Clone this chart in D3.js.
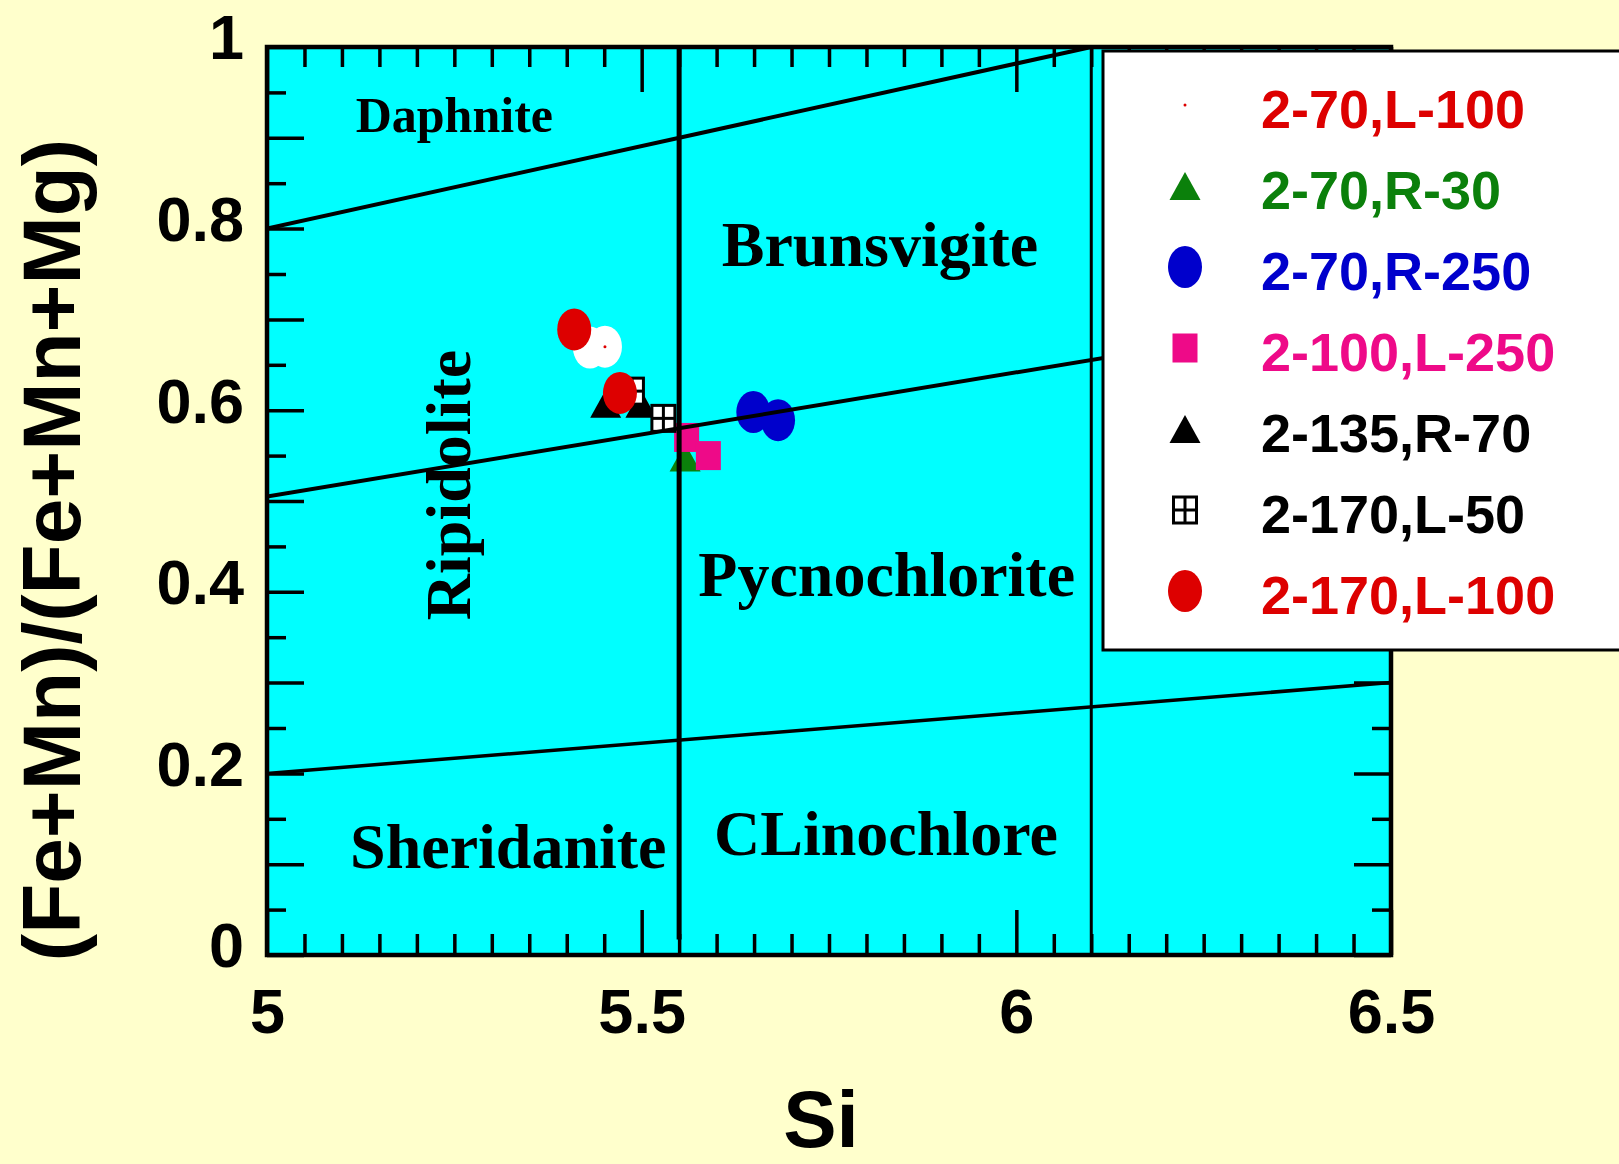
<!DOCTYPE html>
<html><head><meta charset="utf-8">
<script src="https://cdn.jsdelivr.net/npm/d3@7"></script>
<style>html,body{margin:0;padding:0;background:#FFFFCC;overflow:hidden}svg{display:block}</style>
</head><body>
<script>
// ---------- data ----------
const seriesNames  = ["2-70,L-100","2-70,R-30","2-70,R-250","2-100,L-250","2-135,R-70","2-170,L-50","2-170,L-100"];
const seriesColors = ["#DD0000","#0B800B","#0000CC","#EE0A88","#000000","#000000","#DD0000"];
const seriesShapes = ["dot","triangle","circle","square","triangle","crossSquare","circle"];

const si_2_70_L100  = [5.431, 5.451];  const fe_2_70_L100  = [0.669, 0.670];
const si_2_70_R30   = [5.558];         const fe_2_70_R30   = [0.548];
const si_2_70_R250  = [5.649, 5.682];  const fe_2_70_R250  = [0.598, 0.589];
const si_2_100_L250 = [5.560, 5.589];  const fe_2_100_L250 = [0.570, 0.550];
const si_2_135_R70  = [5.452, 5.499];  const fe_2_135_R70  = [0.607, 0.607];
const si_2_170_L50  = [5.487, 5.529];  const fe_2_170_L50  = [0.621, 0.591];
const si_2_170_L100 = [5.410, 5.471];  const fe_2_170_L100 = [0.689, 0.619];

const seriesSi = [si_2_70_L100, si_2_70_R30, si_2_70_R250, si_2_100_L250, si_2_135_R70, si_2_170_L50, si_2_170_L100];
const seriesFe = [fe_2_70_L100, fe_2_70_R30, fe_2_70_R250, fe_2_100_L250, fe_2_135_R70, fe_2_170_L50, fe_2_170_L100];

// field boundaries (Si, ratio)
const boundaryX1 = [5.0, 5.0, 5.0, 5.55, 6.1];
const boundaryY1 = [0.8, 0.505, 0.2, 0.017, 0.0];
const boundaryX2 = [6.1, 6.5, 6.5, 5.55, 6.1];
const boundaryY2 = [1.0, 0.71, 0.3, 1.0, 1.0];

// field names (Si, ratio of baseline)
const fieldNames = ["Daphnite","Brunsvigite","Ripidolite","Pycnochlorite","Sheridanite","CLinochlore"];
const fieldSi    = [5.25, 5.818, 5.2713, 5.827, 5.322, 5.826];
const fieldFe    = [0.9067, 0.7588, 0.5176, 0.3954, 0.0958, 0.110];

const xLabelTicks = [5, 5.5, 6, 6.5];
const xTickLabels = ["5","5.5","6","6.5"];
const yLabelTicks = [0, 0.2, 0.4, 0.6, 0.8, 1];
const yTickLabels = ["0","0.2","0.4","0.6","0.8","1"];
const xTitle = "Si";
const yTitle = "(Fe+Mn)/(Fe+Mn+Mg)";

// ---------- layout ----------
const W = 1619, H = 1164;
const L = 267, R = 1391, T = 47, B = 955;
const x = d3.scaleLinear().domain([5, 6.5]).range([L, R]);
const y = d3.scaleLinear().domain([0, 1]).range([B, T]);

const svg = d3.select("body").append("svg").attr("width", W).attr("height", H);
svg.append("rect").attr("width", W).attr("height", H).attr("fill", "#FFFFCC");
svg.append("rect").attr("x", L).attr("y", T).attr("width", R - L).attr("height", B - T).attr("fill", "#00FFFF");

svg.append("clipPath").attr("id", "pc").append("rect")
  .attr("x", L).attr("y", T).attr("width", R - L).attr("height", B - T);

// field labels
const serif = "'Liberation Serif','Times New Roman',serif";
const fsz = [50, 64, 64, 64, 64, 64];
svg.append("g").selectAll("text").data(fieldNames).join("text")
  .attr("transform", (d, i) => d === "Ripidolite"
      ? `translate(${x(fieldSi[i])},${y(fieldFe[i])}) rotate(-90)`
      : `translate(${x(fieldSi[i])},${y(fieldFe[i])})`)
  .attr("text-anchor", "middle")
  .attr("font-family", serif).attr("font-weight", "bold")
  .attr("font-size", (d, i) => fsz[i]).attr("fill", "#000").text(d => d);

// marker drawing
function drawMarker(g, shape, color, cx, cy) {
  if (shape === "dot") {
    g.append("ellipse").attr("cx", cx).attr("cy", cy).attr("rx", 17).attr("ry", 21).attr("fill", "#FFFFFF");
    g.append("circle").attr("cx", cx).attr("cy", cy).attr("r", 1.5).attr("fill", color);
  } else if (shape === "circle") {
    g.append("ellipse").attr("cx", cx).attr("cy", cy).attr("rx", 17).attr("ry", 21).attr("fill", color);
  } else if (shape === "triangle") {
    const w = 31, h = 28;
    g.append("path").attr("d", `M${cx},${cy - h / 2}L${cx + w / 2},${cy + h / 2}L${cx - w / 2},${cy + h / 2}Z`).attr("fill", color);
  } else if (shape === "square") {
    g.append("rect").attr("x", cx - 12.5).attr("y", cy - 14.5).attr("width", 25).attr("height", 29).attr("fill", color);
  } else if (shape === "crossSquare") {
    const w = 23, h = 26;
    g.append("rect").attr("x", cx - w / 2).attr("y", cy - h / 2).attr("width", w).attr("height", h)
      .attr("fill", "#fff").attr("stroke", color).attr("stroke-width", 3);
    g.append("line").attr("x1", cx).attr("x2", cx).attr("y1", cy - h / 2).attr("y2", cy + h / 2).attr("stroke", color).attr("stroke-width", 3);
    g.append("line").attr("x1", cx - w / 2).attr("x2", cx + w / 2).attr("y1", cy).attr("y2", cy).attr("stroke", color).attr("stroke-width", 3);
  }
}

const pts = svg.append("g");
seriesNames.forEach((name, s) => {
  const g = pts.append("g");
  seriesSi[s].forEach((v, i) => drawMarker(g, seriesShapes[s], seriesColors[s], x(v), y(seriesFe[s][i])));
});

// boundaries (drawn over the points)
const bw = [4, 4, 3.5, 5, 3];
svg.append("g").attr("clip-path", "url(#pc)").selectAll("line").data(boundaryX1).join("line")
  .attr("x1", (d, i) => x(boundaryX1[i])).attr("y1", (d, i) => y(boundaryY1[i]))
  .attr("x2", (d, i) => x(boundaryX2[i])).attr("y2", (d, i) => y(boundaryY2[i]))
  .attr("stroke", "#000").attr("stroke-width", (d, i) => bw[i]);

// ticks
const isMul = (v, m) => Math.abs(v / m - Math.round(v / m)) < 1e-6;
const xAll = d3.range(5, 6.5001, 0.05).map(v => +v.toFixed(2));
const xMinor = xAll.filter(v => !isMul(v - 5, 0.5));
const xMajor = xAll.filter(v => isMul(v - 5, 0.5));
const yAll = d3.range(0, 1.0001, 0.05).map(v => +v.toFixed(2));
const yMinor = yAll.filter(v => !isMul(v, 0.1));
const yMajor = yAll.filter(v => isMul(v, 0.1));

function tickGroup(axis, tr) {
  const g = svg.append("g").attr("transform", tr).call(axis);
  g.select(".domain").remove();
  g.selectAll("line").attr("stroke", "#000").attr("stroke-width", 3.5);
  return g;
}
tickGroup(d3.axisBottom(x).tickValues(xMinor).tickSize(-21).tickFormat(""), `translate(0,${B})`);
tickGroup(d3.axisBottom(x).tickValues(xMajor).tickSize(-45).tickFormat(""), `translate(0,${B})`);
tickGroup(d3.axisTop(x).tickValues(xMinor).tickSize(-20).tickFormat(""), `translate(0,${T})`);
tickGroup(d3.axisTop(x).tickValues(xMajor).tickSize(-45).tickFormat(""), `translate(0,${T})`);
tickGroup(d3.axisLeft(y).tickValues(yMinor).tickSize(-19).tickFormat(""), `translate(${L},0)`);
tickGroup(d3.axisLeft(y).tickValues(yMajor).tickSize(-37).tickFormat(""), `translate(${L},0)`);
tickGroup(d3.axisRight(y).tickValues(yMinor).tickSize(-19).tickFormat(""), `translate(${R},0)`);
tickGroup(d3.axisRight(y).tickValues(yMajor).tickSize(-37).tickFormat(""), `translate(${R},0)`);

// frame
svg.append("rect").attr("x", L).attr("y", T).attr("width", R - L).attr("height", B - T)
  .attr("fill", "none").attr("stroke", "#000").attr("stroke-width", 4.5);

// tick labels
const sans = "'Liberation Sans',Arial,sans-serif";
const xl = svg.append("g").attr("transform", `translate(0,${B})`)
  .call(d3.axisBottom(x).tickValues(xLabelTicks).tickFormat((d, i) => xTickLabels[i]).tickSize(0).tickPadding(33));
xl.select(".domain").remove();
xl.selectAll("text").attr("font-family", sans).attr("font-weight", "bold").attr("font-size", 63).attr("fill", "#000");

const yl = svg.append("g").attr("transform", `translate(${L},0)`)
  .call(d3.axisLeft(y).tickValues(yLabelTicks).tickFormat((d, i) => yTickLabels[i]).tickSize(0).tickPadding(23));
yl.select(".domain").remove();
yl.selectAll("text").attr("font-family", sans).attr("font-weight", "bold").attr("font-size", 63).attr("fill", "#000").attr("dy", "0.19em");

// axis titles
svg.append("text").attr("x", 821).attr("y", 1147).attr("text-anchor", "middle")
  .attr("font-family", sans).attr("font-weight", "bold").attr("font-size", 80).text(xTitle);
svg.append("text").attr("transform", "translate(80,550) rotate(-90)").attr("text-anchor", "middle")
  .attr("font-family", sans).attr("font-weight", "bold").attr("font-size", 82).text(yTitle);

// legend
const lg = svg.append("g");
lg.append("rect").attr("x", 1103).attr("y", 51).attr("width", 560).attr("height", 599)
  .attr("fill", "#fff").attr("stroke", "#000").attr("stroke-width", 3);
seriesNames.forEach((name, i) => {
  const base = 128 + i * 81;
  const g = lg.append("g");
  drawMarker(g, seriesShapes[i], seriesColors[i], 1185, base - 23);
  g.append("text").attr("x", 1261).attr("y", base)
    .attr("font-family", sans).attr("font-weight", "bold").attr("font-size", 54)
    .attr("fill", seriesColors[i]).text(name);
});
</script>
</body></html>
